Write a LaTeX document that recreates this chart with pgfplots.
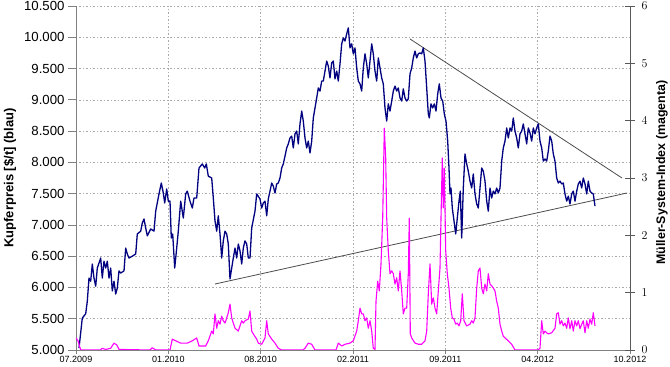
\documentclass[border=0pt]{standalone}
\usepackage{pgfplots}
\pgfplotsset{compat=1.18}
\usepackage{fontspec}
\setmainfont{Liberation Sans}
\definecolor{navyline}{RGB}{0,0,128}
\definecolor{magline}{RGB}{255,0,255}
\definecolor{gridgray}{RGB}{170,170,170}
\definecolor{axgray}{RGB}{128,128,128}
\begin{document}
\begin{tikzpicture}
\useasboundingbox (-76pt,-17pt) rectangle (594pt,350pt);
\begin{axis}[
  at={(0pt,0pt)}, anchor=south west,
  scale only axis, width=554pt, height=344pt,
  xmin=0, xmax=554, ymin=5000, ymax=10500,
  axis x line*=bottom, axis y line*=left,
  axis line style={axgray, line width=0.8pt},
  xtick={0,92.333,184.667,277,369.333,461.667,554},
  xticklabels={07.2009,01.2010,08.2010,02.2011,09.2011,04.2012,10.2012},
  minor x tick num=4,
  ytick={5000,5500,...,10500},
  scaled y ticks=false,
  /pgf/number format/.cd, 1000 sep={.}, assume math mode=true, /pgfplots/.cd,
  xmajorgrids, xminorgrids, ymajorgrids,
  grid style={gridgray, line width=0.6pt, dash pattern=on 1.5pt off 2pt},
  minor grid style={gridgray, line width=0.6pt, dash pattern=on 1.5pt off 2pt},
  tick align=outside,
  major tick length=8pt, minor tick length=0pt,
  xtick style={axgray, line width=0.8pt, /pgfplots/major tick length=4pt},
  ytick style={axgray, line width=0.8pt},
  yticklabel style={font=\fontsize{13.2}{15}\selectfont, text=black},
  xticklabel style={font=\fontsize{9}{11}\selectfont, text=black, yshift=5pt},
  ylabel={\bfseries Kupferpreis [\$/t] (blau)},
  every axis y label/.style={at={(axis description cs:-0.1191,0.5)}, rotate=90, anchor=center, font=\fontsize{13}{15}\selectfont},
]
\addplot[black!70, line width=0.8pt] coordinates {(139,6055)(551,7510)};
\addplot[black!70, line width=0.8pt] coordinates {(334,9973)(546,7750)};
\addplot[navyline, line width=1.3pt, line join=round] coordinates {
(3,5030)(6.3,5510)(9.7,5580)(11.3,5780)(13,6150)(14.7,6100)(16.3,6375)(18,6150)(19.7,6020)(21.3,6310)(24.7,6470)(26.3,6150)(28,6420)(29.7,6310)(31.3,6420)(33,6150)(34.7,6310)(36.3,5945)(38,6100)(39.7,5895)(41.3,5990)(43,6265)(44.7,6230)(48,6265)(49.7,6630)(51.3,6535)(53,6470)(56.3,6500)(59.7,6535)(61.3,6855)(64.7,6900)(66.3,7030)(68,7095)(69.7,6950)(71.3,6825)(74.7,6935)(78,6900)(79.7,7220)(83,7495)(85.3,7670)(87.3,7510)(88.7,7350)(90.7,7575)(92.3,7380)(94,7380)(95.3,6790)(96.7,6855)(98.7,6310)(100.7,6630)(102.3,6900)(104.7,7380)(107.3,7110)(109.7,7495)(111.3,7540)(114,7380)(116.3,7270)(118,7430)(120.7,7430)(123,7910)(126.3,7975)(128.7,7910)(130.3,7975)(132.3,7780)(135.7,7750)(137.3,7430)(139,7065)(140.7,6900)(142.3,7145)(144,6855)(145.7,6470)(147.3,6745)(149,6900)(150.7,6855)(152.3,6695)(154,6135)(155.7,6310)(157.3,6470)(159,6630)(160.7,6470)(162.3,6695)(164,6585)(165.7,6375)(167.3,6630)(169,6745)(170.7,6695)(172.3,6470)(174,6470)(175.7,6950)(179,7220)(180.7,7495)(184,7415)(185.7,7270)(187.3,7350)(189,7380)(190.7,7145)(192.3,7415)(194,7540)(195.7,7670)(197.3,7620)(199,7510)(200.7,7655)(202.3,7670)(204,7750)(205.7,7910)(207.3,7975)(209,8100)(210.7,8230)(212.3,8295)(214,8390)(215.7,8420)(217.3,8230)(219,8455)(220.7,8500)(222.3,8295)(224,8615)(225.7,8820)(227.3,8660)(229,8390)(230.7,8230)(232.3,8340)(234,8150)(235.7,8340)(237.3,8710)(239,8870)(240.7,9030)(242.3,9190)(244,9140)(245.7,9300)(247.3,9300)(249,9460)(250.7,9620)(252.3,9540)(254,9350)(255.7,9590)(257.3,9620)(259,9335)(260.7,9460)(262.3,9300)(264,9575)(265.7,9895)(267.3,9990)(269,9940)(270.7,10055)(272.3,10150)(274,9830)(275.7,9895)(277.3,9735)(279,9830)(280.7,9510)(282.3,9300)(284,9255)(285.7,9140)(287.3,9510)(289,9735)(290.7,9575)(292.3,9350)(294,9620)(295.7,9895)(297.3,9735)(299,9460)(300.7,9300)(302.3,9670)(304,9510)(305.7,9350)(307.3,9255)(309,8870)(310.7,8660)(312.3,8935)(314,8820)(315.7,8980)(317.3,9140)(319,9220)(320.7,9140)(322.3,9190)(324,9030)(325.7,8980)(327.3,9175)(329,9030)(330.7,8980)(332.3,9015)(334,9415)(335.7,9510)(337.3,9670)(339,9780)(340.7,9670)(342.3,9735)(344,9750)(345.7,9735)(347.3,9830)(349,9620)(350.7,9190)(352.3,8775)(353.3,8710)(355,8935)(356.7,8870)(358.3,8935)(360,8820)(361.7,9095)(363.3,9255)(365,9030)(366.7,8980)(368.3,8775)(370,8660)(371.7,8340)(373,7910)(374,7495)(375,7590)(376.3,7270)(378,7065)(379.7,6855)(381.3,7110)(383,7380)(384.3,7540)(385.7,6790)(387.3,7590)(389,8135)(390.7,7975)(392.3,7860)(394,7700)(395.7,7590)(397.3,7815)(399,7495)(400.7,7335)(402.3,7270)(404,7590)(405.7,7910)(407.3,7860)(409,7700)(410.7,7380)(412.3,7220)(414,7590)(415.7,7430)(417.3,7540)(419,7495)(420.7,7590)(422.3,7510)(424,7590)(425.7,8020)(427.3,8230)(429,8340)(430.7,8550)(432.3,8390)(434,8550)(435.7,8500)(437.3,8710)(439,8500)(440.7,8390)(442.3,8230)(444,8455)(445.7,8500)(447.3,8615)(449,8455)(450.7,8295)(452.3,8550)(454,8470)(455.7,8340)(457.3,8550)(459,8455)(460.7,8550)(462.3,8615)(464,8340)(465.7,8230)(467.3,8020)(469,8055)(470.7,8020)(472.3,8180)(474,8420)(475.7,8340)(477.3,8135)(479,8020)(480.7,7750)(482.3,7670)(484,7700)(485.7,7655)(487.3,7670)(489,7495)(490.7,7380)(492.3,7460)(494,7335)(495.7,7495)(497.3,7540)(499,7380)(500.7,7540)(502.3,7655)(504,7700)(505.7,7590)(507.3,7750)(509,7655)(510.7,7495)(512.3,7700)(514,7540)(515.7,7510)(517.3,7495)(519,7300)
};
\end{axis}
\begin{axis}[
  at={(0pt,0pt)}, anchor=south west,
  scale only axis, width=554pt, height=344pt,
  xmin=0, xmax=554, ymin=0, ymax=6,
  axis y line*=right, axis x line=none,
  axis line style={black!65, line width=0.8pt},
  ytick={0,1,...,6},
  tick align=center, major tick length=10pt,
  ytick style={black!65, line width=0.8pt},
  yticklabel style={font=\fontsize{13.2}{15}\selectfont, text=black, xshift=3pt},
  ylabel={\bfseries M\"uller-System-Index (magenta)},
  every axis y label/.style={at={(axis description cs:1.0578,0.5154)}, rotate=90, anchor=center, font=\fontsize{12.4}{15}\selectfont},
]
\addplot[magline, line width=1.1pt, line join=round] coordinates {
(0,0.21)(2,0.16)(4.7,0)(24,0)(26.3,0.03)(29.7,0.01)(34.7,0.03)(38,0.12)(40.7,0.09)(43,0.01)(74,0)(76.3,0.04)(79.7,0)(94,0)(96.3,0.19)(99.7,0.16)(104.7,0.12)(111.3,0.12)(116.3,0.16)(120.7,0.21)(123,0.07)(129.7,0.07)(132.3,0.16)(135.7,0.33)(137.3,0.28)(139,0.63)(140.7,0.38)(142.3,0.51)(144,0.45)(145.7,0.59)(147.3,0.51)(149,0.47)(150.7,0.56)(152.3,0.65)(154,0.80)(155.7,0.56)(157.3,0.47)(159,0.38)(162.3,0.33)(164,0.42)(165.7,0.51)(167.3,0.47)(169,0.51)(172.3,0.54)(174,0.68)(175.7,0.33)(177.3,0.28)(180.7,0.19)(182.3,0.12)(185.7,0.10)(189,0.21)(190.7,0.51)(192.3,0.28)(195.7,0.19)(199,0.12)(202.3,0.03)(205.7,0)(227,0)(229,0.03)(232.3,0.12)(235.7,0.10)(239,0)(260,0)(262.3,0.12)(265.7,0.07)(269,0.10)(274,0.12)(277.3,0.16)(280.7,0.33)(282.3,0.51)(284,0.73)(285.7,0.63)(287.3,0.63)(289,0.51)(290.7,0.56)(292.3,0.38)(294,0.51)(295.7,0.33)(297.3,0.03)(299,0.01)(300,0.85)(301.7,1.20)(303.3,1.03)(305,1.50)(306.7,2.30)(308.3,3.87)(309.7,3.35)(310.7,2.30)(312.3,1.73)(314,1.33)(315.7,1.38)(317.3,1.33)(319,1.15)(320.7,1.26)(322.3,1.03)(324,1.38)(325.7,1.03)(327.3,0.63)(329,0.73)(330.7,0.73)(332.3,1.33)(333.3,2.30)(334.3,0.28)(335.7,0.21)(339,0.12)(342.3,0.10)(345.7,0.10)(349,0.16)(350.7,0.33)(352.3,0.98)(354,1.50)(355.7,0.80)(357.3,0.91)(359,0.73)(360.7,0.63)(362.3,1.03)(364,1.43)(365,2.30)(366.3,3.35)(367.3,2.48)(368.3,3.17)(369.7,1.73)(371.3,1.33)(373,1.08)(374.7,0.73)(376.3,0.56)(378,0.54)(379.7,0.45)(381.3,0.47)(383,0.42)(384.7,0.51)(386.3,0.98)(388,0.51)(390.7,0.42)(394,0.45)(395.7,0.51)(397.3,0.47)(399,0.56)(400.7,1.08)(402.3,1.38)(404,1.43)(405.7,1.08)(407.3,0.98)(409,1.15)(410.7,1.03)(412.3,1.33)(414,1.15)(415.7,1.12)(417.3,1.08)(419,1.03)(420.7,0.85)(422.3,0.73)(424,0.45)(425.7,0.33)(427.3,0.24)(429,0.21)(432.3,0.16)(435.7,0.10)(439,0)(462,0)(464,0.03)(465.7,0.51)(467.3,0.28)(469,0.33)(470.7,0.30)(472.3,0.28)(475.7,0.30)(479,0.38)(480.7,0.63)(482.3,0.65)(484,0.45)(485.7,0.51)(487.3,0.42)(489,0.47)(490.7,0.38)(492.3,0.56)(494,0.37)(495.7,0.51)(497.3,0.33)(499,0.51)(500.7,0.42)(502.3,0.51)(504,0.37)(505.7,0.45)(507.3,0.51)(509,0.30)(510.7,0.51)(512.3,0.38)(514,0.54)(515.7,0.45)(517.3,0.65)(519,0.42)
};
\end{axis}
\end{tikzpicture}
\end{document}
